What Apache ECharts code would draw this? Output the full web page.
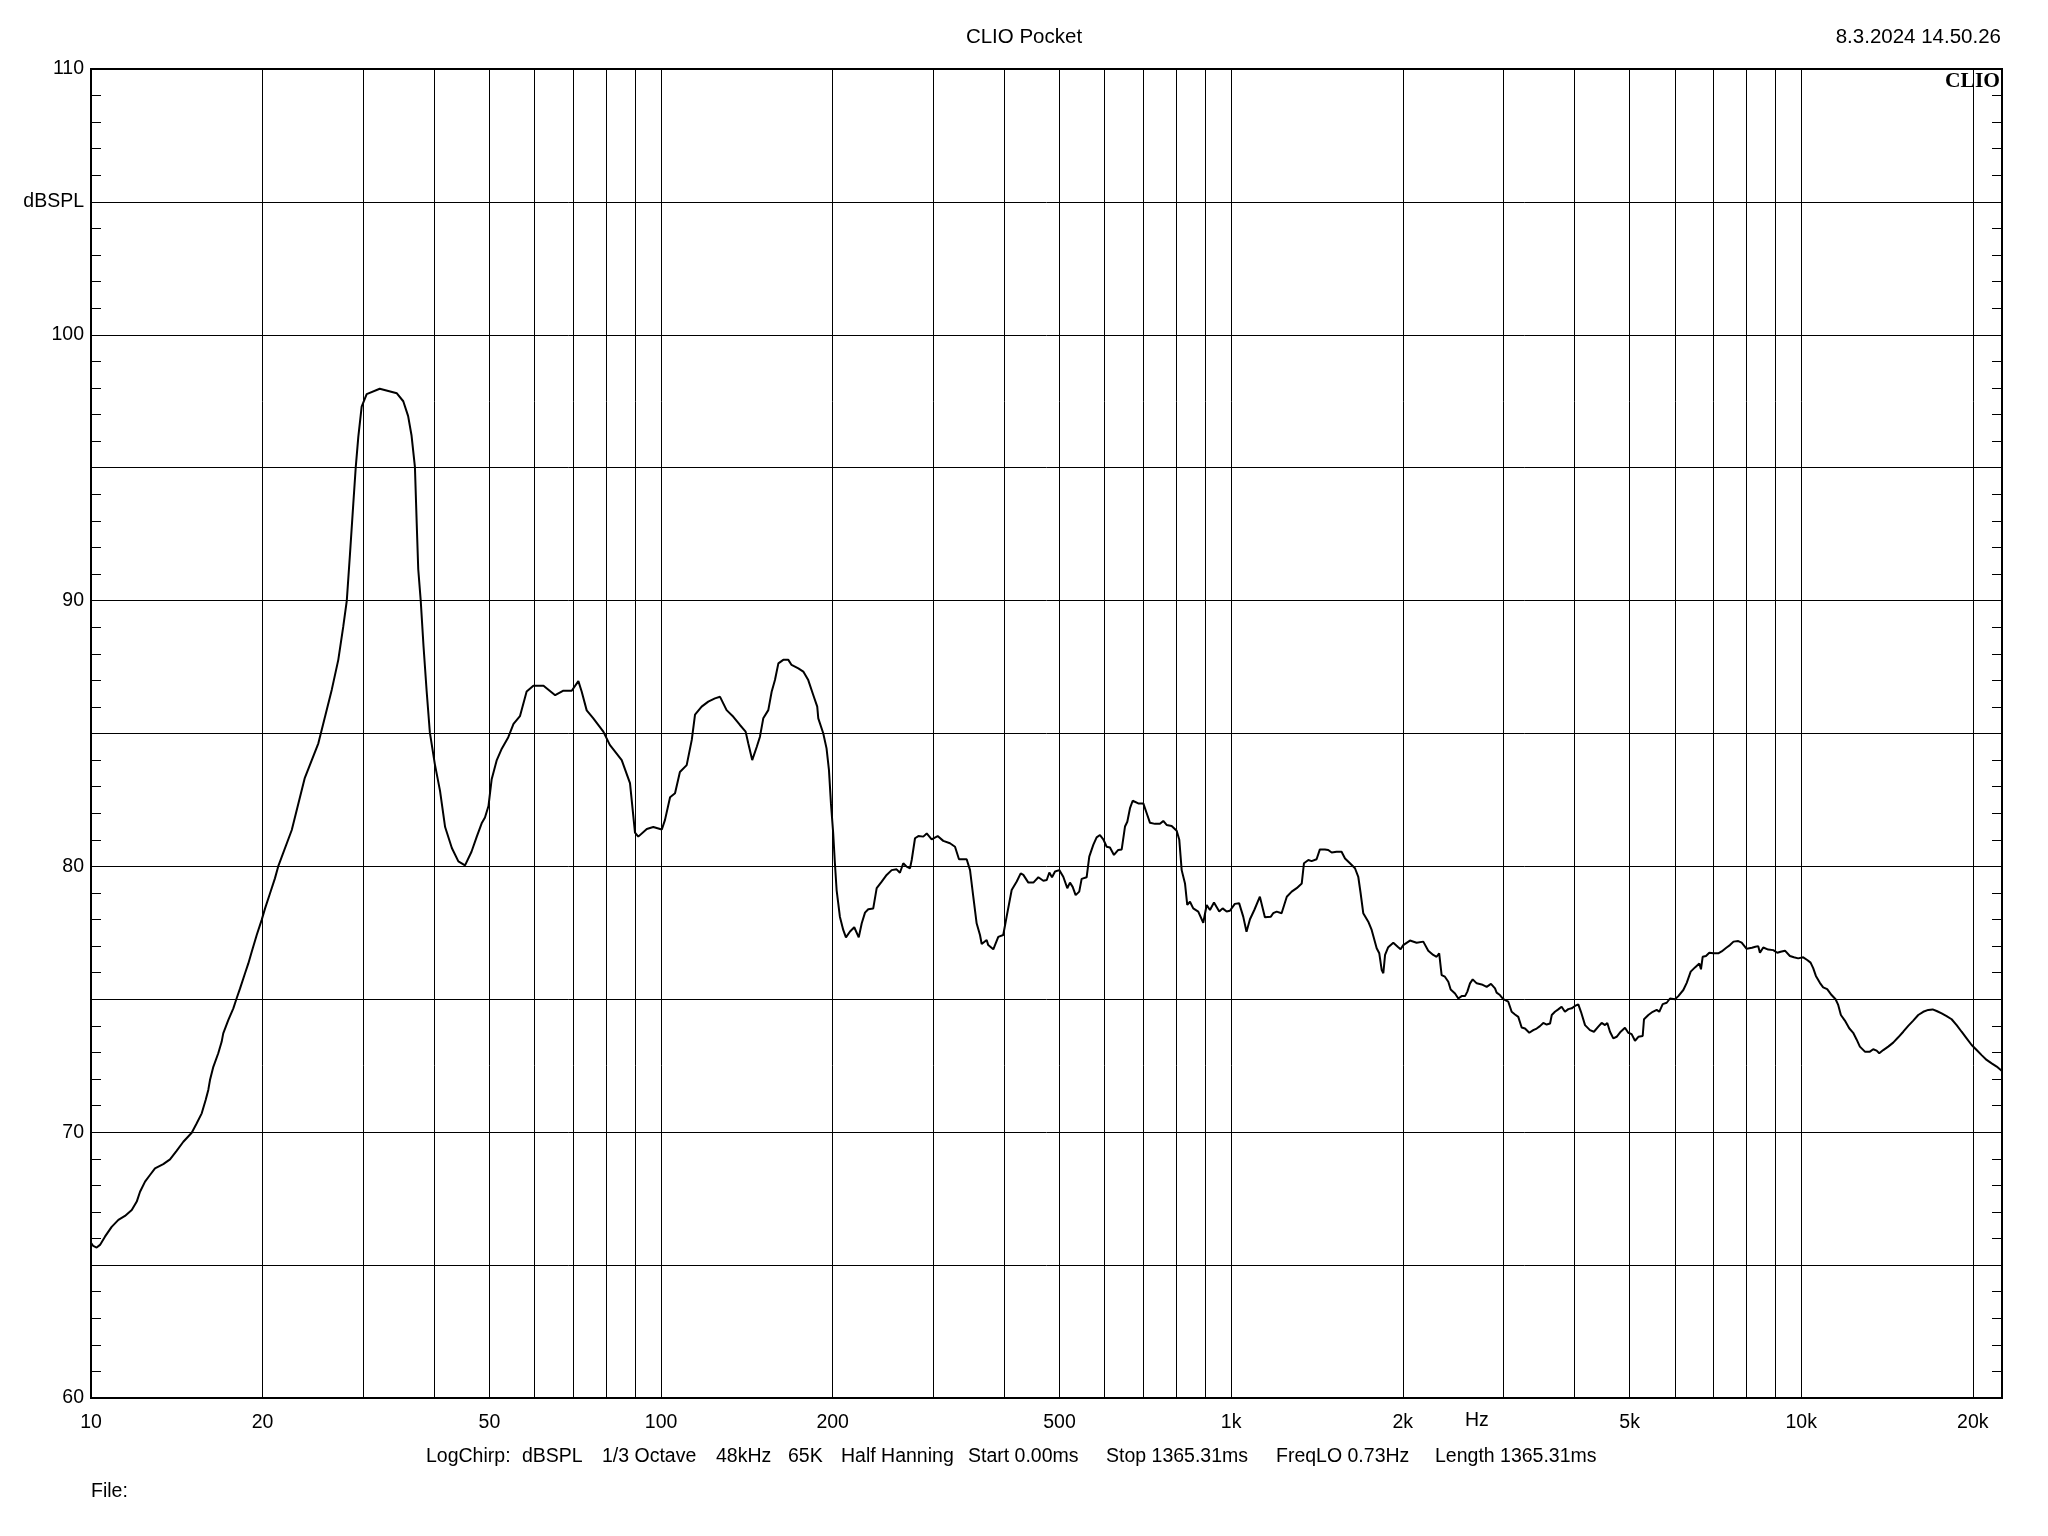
<!DOCTYPE html>
<html>
<head>
<meta charset="utf-8">
<script src="https://cdn.jsdelivr.net/npm/echarts@6/dist/echarts.min.js"></script>
<style>
html,body{margin:0;padding:0;background:#fff;}
#chart{width:2048px;height:1536px;}
</style>
</head>
<body>
<div id="chart"></div>
<script>
// ---- data ----
const freqHz = [10,10.09,10.23,10.37,10.58,10.87,11.17,11.47,11.79,12.03,12.19,12.44,12.69,12.95,13.39,13.76,14.13,14.52,15.02,15.32,15.64,15.89,16.06,16.17,16.39,16.72,16.95,17.06,17.41,17.77,18.01,18.26,18.63,18.88,19.14,19.53,19.92,20.2,20.61,21.02,21.3,22.5,23.7,25.05,26.44,27.15,27.7,28.1,28.47,28.85,29.13,29.44,29.84,30.45,32.1,34.4,35.3,36.0,36.5,37.0,37.27,37.5,37.87,38.3,38.8,39.3,40.1,40.95,41.8,42.95,44.1,45.3,46.5,47.5,48.45,49.1,49.8,50.45,51.5,52.55,53.95,55.1,56.55,58.1,59.7,62.2,65.2,67.4,69.7,71.6,72.56,74.05,76.0,79.2,81.3,85.3,88.2,90.0,91.2,94.4,96.9,100.3,101.6,103.7,105.8,107.9,110.9,113.2,114.7,117.8,121.0,124.3,126.9,130.3,133.9,137.5,140.7,142.2,144.5,147.2,149.1,151.1,154.2,156.3,158.4,160.6,163.8,167.2,169.4,174.1,177.6,181.2,184.9,187.9,188.7,192.5,195.1,197.0,198.6,200.4,201.8,203.2,205.9,208.7,211.0,214.5,218.2,222.2,224.9,227.9,230.9,235.6,238.9,243.8,248.7,253.8,258.9,262.4,266.0,269.6,273.3,275.2,278.9,282.7,288.4,292.4,298.3,305.6,312.6,321.2,327.8,333.1,343.6,348.3,352.9,357.7,362.6,365.1,372.5,374.9,382.6,390.4,398.3,403.8,412.1,420.6,427.4,432.0,440.8,449.8,459.0,468.3,474.8,479.8,485.0,491.0,499.5,507.6,515.9,521.5,527.2,533.6,541.4,546.7,557.8,563.8,573.0,580.8,588.7,596.6,604.8,612.9,622.9,633.8,642.7,651.3,657.4,664.6,671.9,687.2,701.3,711.0,720.5,735.1,750.1,760.2,770.6,786.4,802.5,811.0,818.9,829.9,837.5,846.8,858.0,875.6,893.5,905.8,918.0,933.0,953.1,966.1,982.0,995.0,1015,1033,1050,1064,1079,1098,1123,1146,1174,1185,1202,1226,1252,1277,1303,1330,1342,1366,1384,1412,1431,1460,1480,1501,1531,1562,1584,1616,1649,1671,1687,1705,1740,1764,1800,1819,1837,1849,1862,1886,1925,1964,1983,2004,2059,2115,2173,2188,2217,2262,2293,2317,2340,2371,2404,2427,2470,2503,2537,2572,2596,2624,2653,2696,2751,2807,2856,2903,2922,2961,3001,3063,3105,3147,3189,3233,3277,3334,3388,3435,3481,3528,3576,3626,3651,3698,3748,3799,3851,3903,3957,4010,4064,4108,4176,4260,4329,4406,4466,4527,4569,4619,4681,4745,4823,4907,4973,5041,5110,5180,5271,5299,5393,5489,5578,5636,5715,5808,5886,6005,6087,6211,6297,6399,6511,6626,6670,6716,6806,6898,7010,7153,7251,7398,7498,7607,7754,7862,8021,8195,8309,8406,8464,8578,8752,8932,9078,9202,9364,9553,9708,9878,10081,10245,10385,10495,10610,10782,10927,11105,11304,11488,11611,11737,11928,12139,12336,12505,12673,12933,13197,13374,13561,13705,13928,14210,14500,14797,15100,15406,15721,16042,16368,16704,17002,17279,17633,17989,18358,18734,19113,19505,19904,20311,20723,21146,21580,22023,22470];
const splDb = [65.84,65.72,65.66,65.76,66.07,66.44,66.70,66.85,67.07,67.39,67.76,68.14,68.39,68.64,68.80,68.98,69.30,69.64,69.98,70.33,70.71,71.21,71.59,71.96,72.46,72.97,73.40,73.72,74.22,74.66,75.04,75.41,75.98,76.35,76.79,77.42,77.98,78.42,78.99,79.55,80.0,81.37,83.31,84.63,86.64,87.77,89.02,90.0,91.78,93.66,95.0,96.17,97.30,97.77,97.97,97.8,97.5,96.94,96.21,95.03,92.9,91.18,90.03,88.31,86.58,85.04,83.85,82.84,81.48,80.69,80.19,80.04,80.55,81.12,81.62,81.84,82.27,83.28,84.0,84.43,84.86,85.36,85.65,86.58,86.8,86.8,86.44,86.61,86.61,86.97,86.58,85.87,85.58,85.07,84.57,84.0,83.13,81.27,81.12,81.41,81.48,81.39,81.75,82.6,82.75,83.55,83.81,84.76,85.71,86.01,86.2,86.32,86.38,85.88,85.63,85.32,85.07,84.63,84.0,84.5,84.88,85.57,85.88,86.57,87.01,87.64,87.77,87.77,87.58,87.45,87.33,87.01,86.45,86.01,85.57,85.01,84.44,83.63,82.37,81.25,80.12,79.11,78.11,77.61,77.33,77.55,77.71,77.33,77.86,78.26,78.39,78.42,79.18,79.43,79.68,79.86,79.89,79.76,80.12,79.99,79.93,80.24,81.06,81.14,81.12,81.24,81.02,81.14,80.96,80.87,80.74,80.27,80.27,79.86,78.86,77.86,77.42,77.08,77.23,77.04,76.88,77.35,77.42,78.11,79.11,79.43,79.74,79.68,79.39,79.39,79.59,79.46,79.49,79.77,79.59,79.81,79.86,79.61,79.18,79.39,79.23,78.92,79.05,79.53,79.59,80.37,80.81,81.09,81.18,81.02,80.74,80.71,80.43,80.62,80.64,81.5,81.68,82.19,82.47,82.37,82.37,82.0,81.64,81.6,81.6,81.71,81.56,81.52,81.34,81.0,79.86,79.36,78.55,78.67,78.42,78.30,77.88,78.55,78.36,78.64,78.30,78.42,78.30,78.33,78.59,78.61,78.11,77.54,78.01,78.36,78.86,78.09,78.11,78.24,78.30,78.24,78.86,79.05,79.18,79.36,80.12,80.24,80.20,80.27,80.64,80.64,80.62,80.52,80.55,80.55,80.30,80.12,79.93,79.61,78.99,78.24,77.92,77.61,76.92,76.73,76.1,75.98,76.67,76.96,77.13,76.96,76.88,77.04,77.21,77.13,77.17,77.21,76.83,76.67,76.60,76.73,75.91,75.85,75.66,75.37,75.22,75.03,75.12,75.12,75.29,75.60,75.75,75.60,75.56,75.47,75.58,75.41,75.25,75.16,75.01,74.91,74.53,74.43,74.34,73.94,73.90,73.74,73.84,73.90,73.99,74.11,74.05,74.09,74.41,74.53,74.62,74.72,74.53,74.63,74.66,74.75,74.81,74.53,74.03,73.84,73.78,73.97,74.11,74.03,74.11,73.78,73.53,73.59,73.78,73.93,73.74,73.69,73.44,73.59,73.62,74.25,74.41,74.53,74.60,74.53,74.82,74.87,75.03,75.00,75.12,75.35,75.62,76.04,76.20,76.35,76.13,76.60,76.63,76.75,76.73,76.73,76.80,76.95,77.04,77.17,77.19,77.13,76.90,76.94,76.98,77.0,76.75,76.95,76.87,76.85,76.75,76.79,76.83,76.63,76.58,76.54,76.58,76.48,76.38,76.17,75.88,75.62,75.45,75.38,75.16,75.0,74.79,74.41,74.20,73.91,73.74,73.49,73.22,73.03,73.03,73.12,73.07,72.97,73.09,73.22,73.37,73.57,73.78,74.0,74.20,74.41,74.53,74.60,74.62,74.56,74.47,74.37,74.25,74.03,73.78,73.53,73.28,73.09,72.90,72.72,72.59,72.47,72.31];

const xGridHz = [10,20,30,40,50,60,70,80,90,100,200,300,400,500,600,700,800,900,1000,2000,3000,4000,5000,6000,7000,8000,9000,10000,20000];
const xLabelHz = [10,20,50,100,200,500,1000,2000,5000,10000,20000];
const xMinHz = 10, xMaxHz = 22500;
const yMinDb = 60, yMaxDb = 110, yStepDb = 5;

const titleText = 'CLIO Pocket';
const dateText = '8.3.2024 14.50.26';
const infoItems = ['LogChirp:', 'dBSPL', '1/3 Octave', '48kHz', '65K', 'Half Hanning', 'Start 0.00ms', 'Stop 1365.31ms', 'FreqLO 0.73Hz', 'Length 1365.31ms'];
const infoX = [426, 522, 602, 716, 788, 841, 968, 1106, 1276, 1435];

const FONT = '"Liberation Sans", Arial, sans-serif';
const FS = 19.5;
const chart = echarts.init(document.getElementById('chart'), null, {renderer: 'canvas'});

const fmtHz = v => v >= 1000 ? (v / 1000) + 'k' : String(v);
const fmtDb = v => v === 105 ? 'dBSPL' : (v % 10 === 0 ? String(v) : '');

const yAxisCommon = {
  type: 'value', min: yMinDb, max: yMaxDb, interval: yStepDb,
  axisLine: {show: false},
  axisTick: {show: true, inside: true, length: 10, lineStyle: {color: '#000', width: 1}},
  minorTick: {show: true, splitNumber: 5, length: 10, lineStyle: {color: '#000', width: 1}},
};

const graphics = [
  {type: 'text', left: 'center', top: 27, style: {text: titleText, font: '20.5px ' + FONT, fill: '#000'}},
  {type: 'text', right: 47, top: 27, style: {text: dateText, font: '20.5px ' + FONT, fill: '#000'}},
  {type: 'text', right: 48, top: 70, z: 10, style: {text: 'CLIO', font: 'bold 21.5px "Liberation Serif", "Times New Roman", serif', fill: '#000'}},
  {type: 'text', left: 1465, top: 1411, style: {text: 'Hz', font: FS + 'px ' + FONT, fill: '#000'}},
  {type: 'text', left: 91, top: 1482, style: {text: 'File:', font: FS + 'px ' + FONT, fill: '#000'}}
];
infoItems.forEach((t, i) => {
  graphics.push({type: 'text', left: infoX[i], top: 1447, style: {text: t, font: FS + 'px ' + FONT, fill: '#000'}});
});

chart.setOption({
  animation: false,
  backgroundColor: '#fff',
  grid: {left: 91, right: 46, top: 69, bottom: 138, show: true, borderColor: '#000', borderWidth: 2, backgroundColor: 'transparent', containLabel: false},
  xAxis: {
    type: 'log', logBase: 10, min: xMinHz, max: xMaxHz,
    axisLine: {show: false},
    axisTick: {show: false, customValues: xGridHz},
    axisLabel: {show: true, customValues: xLabelHz, formatter: fmtHz, margin: 15, fontSize: FS, fontFamily: FONT, color: '#000'},
    splitLine: {show: true, lineStyle: {color: '#000', width: 1}},
    minorTick: {show: false}, minorSplitLine: {show: false}
  },
  yAxis: [
    Object.assign({}, yAxisCommon, {
      position: 'left',
      axisLabel: {show: true, formatter: fmtDb, margin: 7, fontSize: FS, fontFamily: FONT, color: '#000', padding: [2, 0, 0, 0]},
      splitLine: {show: true, lineStyle: {color: '#000', width: 1}}
    }),
    Object.assign({}, yAxisCommon, {
      position: 'right',
      axisLabel: {show: false},
      splitLine: {show: false}
    })
  ],
  series: [{
    type: 'line',
    xAxisIndex: 0, yAxisIndex: 0,
    data: freqHz.map((f, i) => [f, splDb[i]]),
    showSymbol: false, symbol: 'none',
    smooth: false,
    clip: true,
    lineStyle: {color: '#000', width: 2},
    z: 5
  }],
  graphic: graphics
});
</script>
</body>
</html>
